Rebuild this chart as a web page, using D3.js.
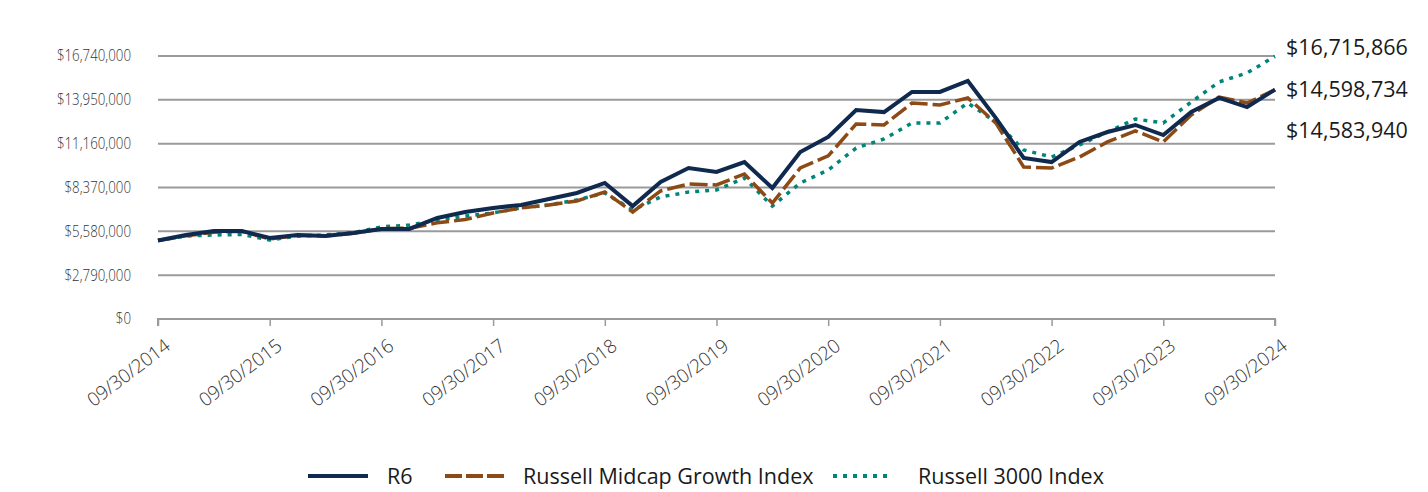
<!DOCTYPE html>
<html>
<head>
<meta charset="utf-8">
<script src="https://cdn.jsdelivr.net/npm/d3@7"></script>
<style>
  html, body { margin: 0; padding: 0; background: #fff; }
  svg { display: block; font-family: "Open Sans", "Noto Sans", sans-serif; }
</style>
</head>
<body>
<svg id="chart" width="1428" height="492"></svg>
<script>
// ---- data ----
const quarterEnds = ["09/30","12/31","03/31","06/30"];
const categories = (function () {
  const out = [];
  let year = 2014;
  for (let i = 0; i < 41; i++) {
    const q = quarterEnds[i % 4];
    if (q === "09/30" || q === "12/31") out.push(q + "/" + year);
    else out.push(q + "/" + (year + 1));
    if (q === "06/30") year += 1;
  }
  return out;
})();
const tickLabels = ["09/30/2014","09/30/2015","09/30/2016","09/30/2017","09/30/2018","09/30/2019","09/30/2020","09/30/2021","09/30/2022","09/30/2023","09/30/2024"];
const yTicks = [0, 2790000, 5580000, 8370000, 11160000, 13950000, 16740000];

const seriesNames = ["R6", "Russell Midcap Growth Index", "Russell 3000 Index"];
const r6 = [5.00,5.35,5.60,5.60,5.16,5.35,5.28,5.47,5.73,5.73,6.43,6.81,7.07,7.26,7.64,8.02,8.66,7.19,8.72,9.61,9.36,9.99,8.34,10.63,11.59,13.30,13.17,14.45,14.45,15.15,12.80,10.25,9.99,11.27,11.90,12.35,11.71,13.18,14.07,13.49,14.598734];
const midcap = [5.00,5.30,5.52,5.58,5.10,5.32,5.30,5.45,5.75,5.78,6.12,6.33,6.75,7.07,7.26,7.51,8.08,6.81,8.15,8.59,8.53,9.23,7.38,9.61,10.38,12.41,12.35,13.75,13.62,14.07,12.48,9.68,9.61,10.31,11.27,11.97,11.27,12.99,14.13,13.75,14.58394];
const r3000 = [5.00,5.28,5.35,5.38,5.03,5.28,5.35,5.50,5.86,5.98,6.30,6.55,6.75,7.07,7.26,7.57,8.02,6.94,7.77,8.08,8.21,8.98,7.19,8.66,9.48,10.88,11.46,12.48,12.48,13.75,12.54,10.76,10.31,11.08,11.90,12.73,12.48,13.81,15.09,15.66,16.715866];
const endLabels = ["$14,598,734", "$14,583,940", "$16,715,866"];

const colors = ["#0f2a4e", "#8c4a16", "#00857a"];
const dashes = [null, "18,5", "4,6"];

// ---- layout ----
const svg = d3.select("#chart");
const mLeft = 158, mRight = 1275, mTop = 56, mBottom = 319;

const x = d3.scalePoint().domain(categories).range([mLeft, mRight]);
const y = d3.scaleLinear().domain([0, 16740000]).range([mBottom, mTop]);

// grid lines
svg.append("g").selectAll("line").data(yTicks.slice(1)).join("line")
  .attr("x1", mLeft).attr("x2", mRight)
  .attr("y1", d => y(d)).attr("y2", d => y(d))
  .attr("stroke", "#9a9a9a").attr("stroke-width", 2);

// y labels (slightly condensed, light)
const fmt = d3.format(",");
svg.append("g").selectAll("text").data(yTicks).join("text")
  .attr("transform", d => `translate(131,${y(d)}) scale(0.86,1)`)
  .attr("dy", "0.35em")
  .attr("text-anchor", "end")
  .attr("font-size", 15.5).attr("font-weight", 300).attr("fill", "#333")
  .text(d => "$" + fmt(d));

// x axis
const xAxis = d3.axisBottom(x)
  .tickValues(tickLabels)
  .tickSize(7)
  .tickFormat(d => d);
const gx = svg.append("g").attr("transform", `translate(0,${mBottom})`).call(xAxis);
gx.select(".domain").attr("stroke", "#9a9a9a").attr("stroke-width", 2).attr("d", `M${mLeft},7V0H${mRight}V7`);
gx.selectAll(".tick line").attr("stroke", "#9a9a9a").attr("stroke-width", 1.5);
gx.selectAll(".tick text")
  .attr("font-size", 19).attr("font-weight", 300).attr("fill", "#333")
  .attr("font-family", "'Open Sans', sans-serif")
  .attr("letter-spacing", "-0.2px")
  .attr("text-anchor", "end")
  .attr("transform", "translate(5,19) rotate(-37)")
  .attr("dy", "0.7em").attr("y", 0);

// lines
const allSeries = [r6, midcap, r3000];
const line = d3.line().x((d, i) => x(categories[i])).y(d => y(d * 1000000));
[2, 1, 0].forEach(k => {
  svg.append("path").datum(allSeries[k])
    .attr("d", line)
    .attr("fill", "none")
    .attr("stroke", colors[k])
    .attr("stroke-width", k === 0 ? 4 : 3.5)
    .attr("stroke-linejoin", "miter")
    .attr("stroke-dasharray", dashes[k]);
});

// end labels
const ends = allSeries.map((s, k) => ({ v: s[s.length - 1] * 1000000, label: endLabels[k] }))
  .sort((a, b) => b.v - a.v);
let prev = -Infinity;
ends.forEach((e, i) => {
  let cy = y(e.v) - (i === 0 ? 9 : 0);
  if (cy < prev + 41) cy = prev + 41;
  prev = cy;
  svg.append("text").attr("x", 1286).attr("y", cy).attr("dy", "0.35em")
    .attr("font-size", 21.5).attr("fill", "#1a1a1a").text(e.label);
});

// legend
const legendItems = [
  { sx: 308, tx: 387 },
  { sx: 445, tx: 523 },
  { sx: 833, tx: 918 }
];
const ly = 476;
legendItems.forEach((li, k) => {
  svg.append("line").attr("x1", li.sx).attr("x2", li.sx + 60)
    .attr("y1", ly).attr("y2", ly)
    .attr("stroke", colors[k]).attr("stroke-width", 4)
    .attr("stroke-dasharray", k === 1 ? "17,4" : (k === 2 ? "4,6" : null));
  svg.append("text").attr("x", li.tx).attr("y", ly).attr("dy", "0.35em")
    .attr("font-size", 21.5).attr("fill", "#1a1a1a").text(seriesNames[k]);
});
</script>
</body>
</html>
